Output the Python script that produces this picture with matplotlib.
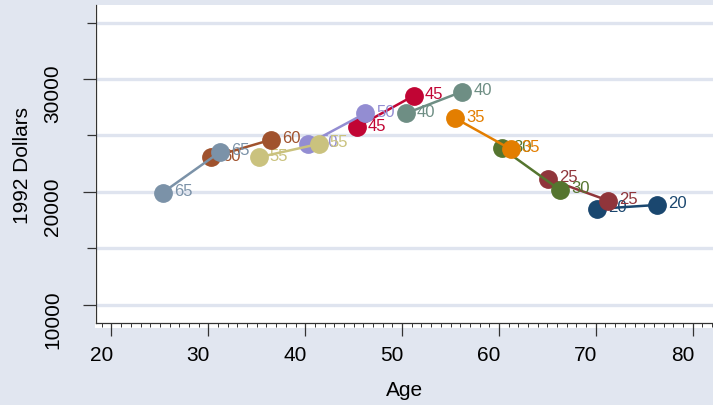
import matplotlib
matplotlib.use("Agg")
import matplotlib.pyplot as plt
import matplotlib.transforms as mtransforms
from matplotlib.patches import Rectangle
from matplotlib.ticker import MultipleLocator

plt.rcParams["font.family"] = ["Liberation Sans", "DejaVu Sans"]

# Cohort labels (Stata s2color order) and the two observations per cohort
cohorts = ["20", "25", "30", "35", "40", "45", "50", "55", "60", "65"]
age_start = [70.1, 65.1, 60.3, 55.5, 50.4, 45.3, 40.3, 35.2, 30.3, 25.3]
inc_start = [18500, 21150, 23870, 26520, 26960, 25730, 24250, 23070, 23070, 19950]
age_end = [76.3, 71.3, 66.3, 61.2, 56.2, 51.2, 46.2, 41.4, 36.5, 31.2]
inc_end = [18850, 19230, 20180, 23800, 28880, 28520, 26960, 24250, 24630, 23540]

colors = ["#1a476f", "#90353b", "#55752f", "#e37e00", "#6e8e84",
          "#c10534", "#938dd2", "#cac27e", "#a0522d", "#7b92a8"]

bg = "#e1e6f0"
grid_col = "#dfe4ef"

fig = plt.figure(figsize=(7.13, 4.06), dpi=100)
fig.patch.set_facecolor(bg)

# white plot region (slightly larger than the axes, Stata style)
W, H = 713, 406
fig.patches.append(Rectangle((95 / W, (H - 329) / H), 1 - 95 / W, (329 - 6) / H,
                             transform=fig.transFigure, facecolor="white",
                             edgecolor="none", zorder=-5))

ax = fig.add_axes([96 / W, (H - 324) / H, 1 - 96 / W, (324 - 6) / H])
ax.set_facecolor("white")
ax.patch.set_alpha(0)

for i, lab in enumerate(cohorts):
    z = 3 + i
    xs = [age_start[i], age_end[i]]
    ys = [inc_start[i], inc_end[i]]
    ax.plot(xs, ys, color=colors[i], lw=1.8, zorder=z, solid_capstyle="round")
    ax.plot(xs, ys, "o", color=colors[i], ms=12.5, mec=colors[i], zorder=z)
    for x, y in zip(xs, ys):
        ax.annotate(lab, (x, y), xytext=(8, 1.5), textcoords="offset points",
                    ha="left", va="center", color=colors[i], fontsize=12,
                    zorder=z)

ax.set_xlim(18.4, 82.1)
ax.set_ylim(8400, 36550)

ax.set_xticks([20, 30, 40, 50, 60, 70, 80])
ax.xaxis.set_minor_locator(MultipleLocator(1))
ax.set_yticks([10000, 20000, 30000])
ax.set_yticks([15000, 25000, 35000], minor=True)

ax.grid(True, which="both", axis="y", color=grid_col, lw=2.4, zorder=1)
ax.grid(False, axis="x")

for s in ["top", "right"]:
    ax.spines[s].set_visible(False)
for s in ["left", "bottom"]:
    ax.spines[s].set_color("#333333")
    ax.spines[s].set_linewidth(0.9)

ax.tick_params(axis="x", which="major", length=9.5, width=0.9, color="#333333",
               labelsize=15, pad=6)
ax.tick_params(axis="x", which="minor", length=3, width=0.7, color="#333333")
ax.tick_params(axis="y", which="major", length=9.5, width=0.9, color="#333333",
               labelsize=15, pad=15)
ax.tick_params(axis="y", which="minor", length=6.5, width=0.9, color="#333333")
plt.setp(ax.get_yticklabels(), rotation=90, va="center")

ax.set_xlabel("Age", fontsize=15, labelpad=12)
ax.set_ylabel("1992 Dollars", fontsize=15, labelpad=8)

# Stata draws tick labels a little off the tick marks
dx = mtransforms.ScaledTranslation(-0.10, 0, fig.dpi_scale_trans)
dy = mtransforms.ScaledTranslation(0, -0.14, fig.dpi_scale_trans)
for t in ax.get_xticklabels():
    t.set_transform(t.get_transform() + dx)
for t in ax.get_yticklabels():
    t.set_transform(t.get_transform() + dy)

fig.savefig("out.png", dpi=100, facecolor=bg)
